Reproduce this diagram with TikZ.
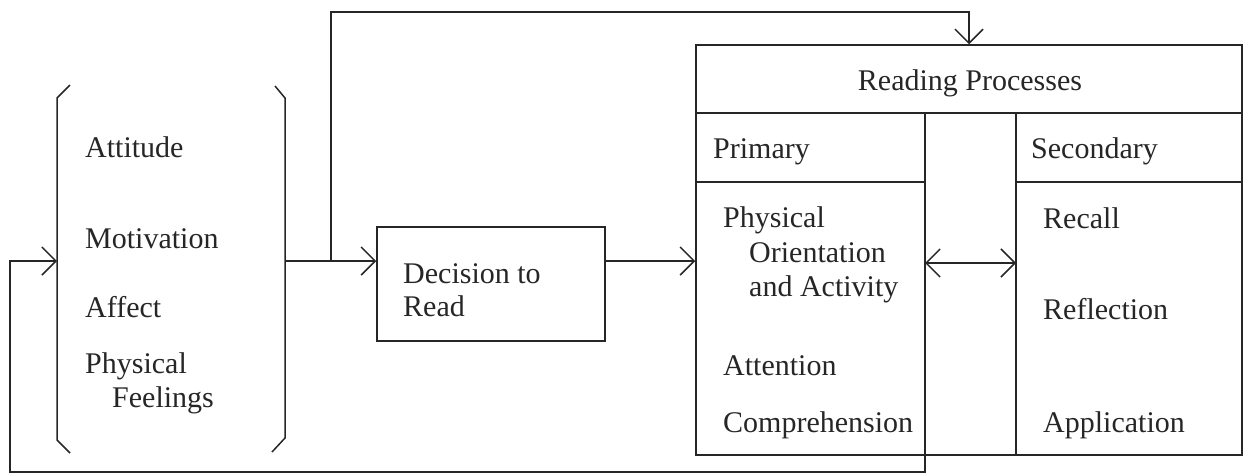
\documentclass[tikz,border=0pt]{standalone}
\usepackage{fontspec}
\setmainfont{Liberation Serif}
\usetikzlibrary{arrows.meta}

\tikzset{
  ln/.style={line width=1.5pt, draw=black!85},
  tip/.style={-{Straight Barb[length=14pt,width=28pt,line width=1.5pt]}},
  twotip/.style={{Straight Barb[length=14pt,width=28pt,line width=1.5pt]}-{Straight Barb[length=14pt,width=28pt,line width=1.5pt]}},
  lbl/.style={anchor=base west, inner sep=0pt, font=\fontsize{30}{34}\selectfont, text=black!85},
  box/.style={ln, rectangle, inner sep=0pt},
}

\begin{document}
\begin{tikzpicture}[x=1pt, y=-1pt]
\useasboundingbox (0,0) rectangle (1248,475);

% ---- factors in brackets ----
\coordinate (brLt) at (57,98);
\coordinate (brLb) at (57,440);
\coordinate (brRt) at (285,98);
\coordinate (brRb) at (285,438);
\draw[ln] (70,85) -- (brLt) -- (brLb) -- (70,453);
\draw[ln] (275,86) -- (brRt) -- (brRb) -- (272,452);
\coordinate (brLin) at (57,261);
\coordinate (brRout) at (285,261);

\node[lbl] (att) at (85,157) {Attitude};
\node[lbl] (mot) at (85,248) {Motivation};
\node[lbl] (aff) at (85,317) {Affect};
\node[lbl] (phy) at (85,373) {Physical};
\node[lbl] (fee) at (112,407) {Feelings};

% ---- decision box ----
\node[box, minimum width=228pt, minimum height=114pt] (dec) at (491,284) {};
\node[lbl] (dec1) at (403,283) {Decision to};
\node[lbl] (dec2) at (403,316) {Read};

% ---- reading processes table ----
\node[box, minimum width=546pt, minimum height=410pt] (rp) at (969,250) {};
\coordinate (hdL) at (696,113);
\coordinate (hdR) at (1242,113);
\draw[ln] (hdL) -- (hdR);
\coordinate (divT) at (925,113);
\coordinate (divB) at (925,455);
\coordinate (secT) at (1016,113);
\coordinate (secB) at (1016,455);
\draw[ln] (divT) -- (divB);
\draw[ln] (secT) -- (secB);
\draw[ln] (696,182) -- (925,182);
\draw[ln] (1016,182) -- (1242,182);

\node[anchor=base, inner sep=0pt, font=\fontsize{30}{34}\selectfont, text=black!85] (rpt) at (970,90) {Reading Processes};
\node[lbl] (pri) at (713,158) {Primary};
\node[lbl] (sec) at (1031,158) {Secondary};

\node[lbl] (p1) at (723,227) {Physical};
\node[lbl] (p2) at (749,262) {Orientation};
\node[lbl] (p3) at (749,296) {and Activity};
\node[lbl] (p4) at (723,375) {Attention};
\node[lbl] (p5) at (723,432) {Comprehension};

\node[lbl] (s1) at (1043,228) {Recall};
\node[lbl] (s2) at (1043,319) {Reflection};
\node[lbl] (s3) at (1043,432) {Application};

% ---- connectors ----
\coordinate (split) at (331,261);
\coordinate (topL) at (331,12);
\coordinate (decOut) at (605,261);
\coordinate (bot) at (925,472);
\coordinate (botL) at (10,472);
\coordinate (fbUp) at (10,261);

\draw[ln, tip] (brRout) -- (brRout -| dec.west);
\draw[ln, tip] (split) -- (topL) -- (topL -| rp.north) -- (rp.north);
\draw[ln, tip] (decOut) -- (decOut -| rp.west);
\draw[ln, twotip] (925,263) -- (1016,263);
\draw[ln, tip] (divB) -- (bot) -- (botL) -- (fbUp) -- (brLin);
\end{tikzpicture}
\end{document}
